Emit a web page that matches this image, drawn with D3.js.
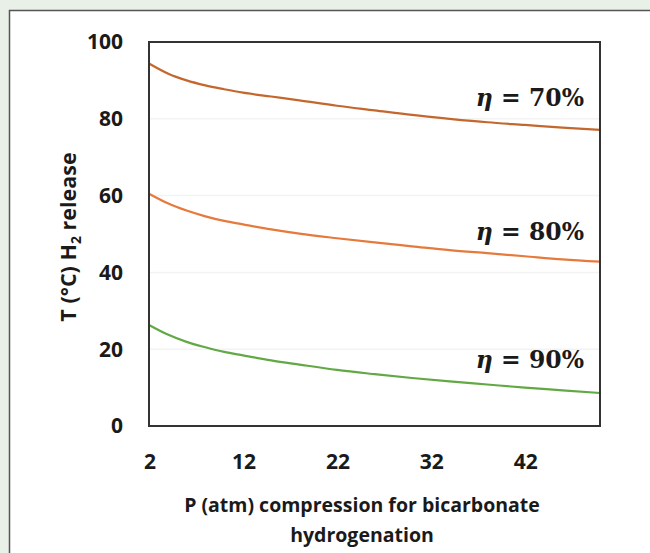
<!DOCTYPE html>
<html>
<head>
<meta charset="utf-8">
<script src="https://cdn.jsdelivr.net/npm/d3@7"></script>
<style>
  body { margin: 0; background: #e9f0e7; }
  svg { display: block; }
</style>
</head>
<body>
<svg id="chart" width="650" height="553"></svg>
<script>
// pressure (atm) sampled along the curves
const pressure = [2, 4, 6, 8, 10, 12, 15, 18, 22, 26, 30, 34, 38, 42, 46, 50];
// temperature of H2 release for each efficiency
const eta70 = [94.4, 91.8, 90.0, 88.7, 87.7, 86.8, 85.8, 84.8, 83.4, 82.2, 81.0, 80.0, 79.1, 78.4, 77.7, 77.1];
const eta80 = [60.5, 58.0, 56.1, 54.6, 53.4, 52.5, 51.2, 50.1, 48.9, 47.8, 46.8, 45.8, 45.0, 44.2, 43.4, 42.8];
const eta90 = [26.3, 23.8, 21.9, 20.5, 19.3, 18.4, 17.1, 16.0, 14.6, 13.5, 12.5, 11.6, 10.8, 10.0, 9.3, 8.6];
const seriesLabels = ["70%", "80%", "90%"];
const xTicks = [2, 12, 22, 32, 42];
const yTicks = [0, 20, 40, 60, 80, 100];

const svg = d3.select("#chart");

// white panel
svg.append("rect")
    .attr("x", 9.5).attr("y", 10.5)
    .attr("width", 660).attr("height", 560)
    .attr("fill", "#fff")
    .attr("stroke", "#555")
    .attr("stroke-width", 1.5);

const plot = { left: 149, right: 600, top: 42, bottom: 426 };

const x = d3.scaleLinear().domain([2, 50]).range([plot.left, plot.right]);
const y = d3.scaleLinear().domain([0, 100]).range([plot.bottom, plot.top]);

// faint gridlines
svg.append("g")
    .selectAll("line")
    .data(yTicks.slice(1, -1))
    .enter()
    .append("line")
    .attr("x1", plot.left).attr("x2", plot.right)
    .attr("y1", d => y(d)).attr("y2", d => y(d))
    .attr("stroke", "#f3f3f3")
    .attr("stroke-width", 1.5);

// y tick labels
svg.append("g")
    .selectAll("text")
    .data(yTicks)
    .enter()
    .append("text")
    .attr("x", 123)
    .attr("y", d => y(d))
    .attr("dy", "0.35em")
    .attr("text-anchor", "end")
    .attr("font-family", "'Open Sans', sans-serif")
    .attr("font-weight", "bold")
    .attr("font-size", 21)
    .attr("fill", "#1a1a1a")
    .text(d => d);

// x tick labels
svg.append("g")
    .selectAll("text")
    .data(xTicks)
    .enter()
    .append("text")
    .attr("x", d => x(d) + 1)
    .attr("y", 462)
    .attr("dy", "0.35em")
    .attr("text-anchor", "middle")
    .attr("font-family", "'Open Sans', sans-serif")
    .attr("font-weight", "bold")
    .attr("font-size", 21)
    .attr("fill", "#1a1a1a")
    .text(d => d);

// axis titles
const xTitle = svg.append("text")
    .attr("text-anchor", "middle")
    .attr("font-family", "'Open Sans', sans-serif")
    .attr("font-weight", "bold")
    .attr("font-size", 19.5)
    .attr("fill", "#1a1a1a");
xTitle.append("tspan").attr("x", 362).attr("y", 512).text("P (atm) compression for bicarbonate");
xTitle.append("tspan").attr("x", 362).attr("y", 542).text("hydrogenation");

const yTitle = svg.append("text")
    .attr("transform", "translate(76,237) rotate(-90)")
    .attr("text-anchor", "middle")
    .attr("font-family", "'Open Sans', sans-serif")
    .attr("font-weight", "bold")
    .attr("font-size", 21.5)
    .attr("fill", "#1a1a1a");
yTitle.append("tspan").text("T (°C) H");
yTitle.append("tspan").attr("font-size", 14).attr("dy", 5).text("2");
yTitle.append("tspan").attr("dy", -5).text(" release");

// curves
const series = [
    { values: eta70, color: "#c4672e", label: seriesLabels[0] },
    { values: eta80, color: "#e57a3c", label: seriesLabels[1] },
    { values: eta90, color: "#62a946", label: seriesLabels[2] }
];

const line = d3.line()
    .x((d, i) => x(pressure[i]))
    .y(d => y(d))
    .curve(d3.curveMonotoneX);

svg.append("g")
    .selectAll("path")
    .data(series)
    .enter()
    .append("path")
    .attr("d", d => line(d.values))
    .attr("fill", "none")
    .attr("stroke", d => d.color)
    .attr("stroke-width", 2.2);

// plot frame
svg.append("rect")
    .attr("x", plot.left).attr("y", plot.top)
    .attr("width", plot.right - plot.left).attr("height", plot.bottom - plot.top)
    .attr("fill", "none")
    .attr("stroke", "#333")
    .attr("stroke-width", 2);

// efficiency labels
const labelY = [106, 240, 368];
const labels = svg.append("g")
    .selectAll("text")
    .data(series)
    .enter()
    .append("text")
    .attr("x", 584)
    .attr("y", (d, i) => labelY[i])
    .attr("text-anchor", "end")
    .attr("font-family", "'DejaVu Serif', serif")
    .attr("font-weight", "bold")
    .attr("font-size", 23.5)
    .attr("fill", "#1a1a1a");
labels.append("tspan").attr("font-style", "italic").text("η");
labels.append("tspan").text(d => " = " + d.label);
</script>
</body>
</html>
